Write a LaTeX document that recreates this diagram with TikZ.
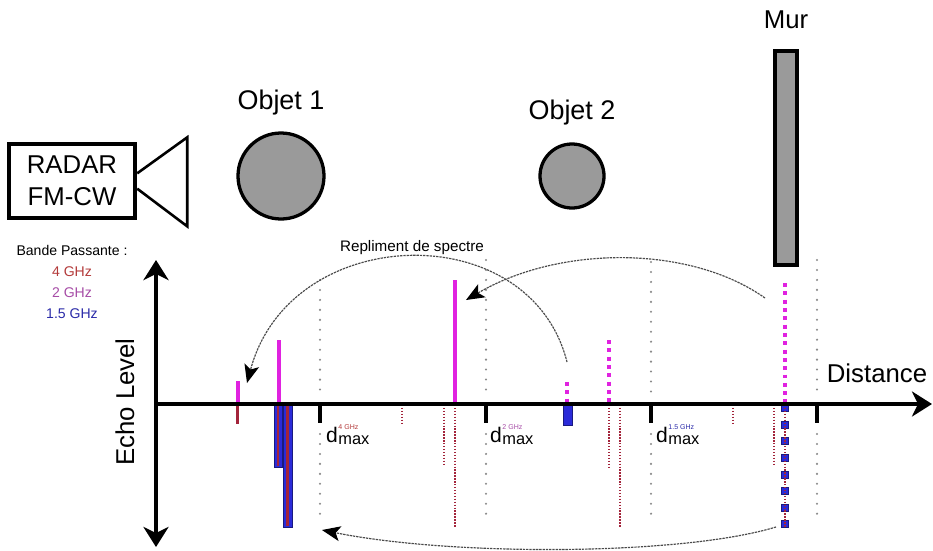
\documentclass[tikz,border=0pt]{standalone}
\usepackage{fontspec}
\setmainfont{Liberation Sans}
\usetikzlibrary{arrows.meta, positioning, calc}
\definecolor{rougeecho}{HTML}{A3243B}
\definecolor{rougetexte}{HTML}{B33A3A}
\definecolor{violettexte}{HTML}{A64CA6}
\definecolor{magentaecho}{HTML}{E022E0}
\definecolor{bleutexte}{HTML}{2A2AA8}
\definecolor{bleuecho}{HTML}{2B2BD9}
\definecolor{bleufonce}{HTML}{1A1A80}
\definecolor{grisobjet}{HTML}{9A9A9A}
\definecolor{grispoint}{HTML}{8A8A8A}
\definecolor{grisfleche}{HTML}{4A4A4A}
\tikzset{
  titre/.style={font=\fontsize{23}{27}\selectfont, inner sep=0pt},
  cadre/.style={rectangle, draw=black, line width=3.2pt, fill=white, align=center,
    font=\fontsize{22}{27}\selectfont, minimum width=38mm, minimum height=22mm, inner sep=0pt},
  cornet/.style={line width=2.2pt, line join=miter},
  objet/.style={circle, draw=black, line width=2.8pt, fill=grisobjet, inner sep=0pt},
  mur/.style={rectangle, draw=black, line width=3pt, fill=grisobjet, inner sep=0pt,
    minimum width=6.6mm, minimum height=64.2mm},
  legende/.style={font=\fontsize{12}{14}\selectfont, inner sep=0pt, text height=9pt, text depth=0pt},
  pointe/.tip={Stealth[length=6mm, width=7.5mm, inset=1.8mm]},
  axe/.style={line width=3pt, -pointe},
  graduation/.style={line width=3.2pt},
  pointille/.style={draw=grispoint, line width=2pt, line cap=round, dash pattern=on 0pt off 8.5pt},
  tiretrouge/.style={draw=rougeecho, line width=2.1pt, dash pattern=on 1.2pt off 1.3pt},
  carremagenta/.style={draw=magentaecho, line width=3.4pt, dash pattern=on 3.4pt off 3.7pt},
  barremagenta/.style={fill=magentaecho},
  barrebleue/.style={fill=bleuecho, draw=bleufonce, line width=0.6pt},
  traitrouge/.style={draw=rougeecho, line width=1.8pt},
  lettred/.style={anchor=base west, inner sep=0pt, font=\fontsize{18}{18}\selectfont},
  indicemax/.style={anchor=base west, inner sep=0pt, font=\fontsize{14}{14}\selectfont, yshift=-2.5pt},
  exposant/.style={anchor=base west, inner sep=0pt, font=\fontsize{6}{6}\selectfont, yshift=11pt},
  repli/.style={draw=grisfleche, line width=1pt, dash pattern=on 2pt off 0.8pt,
    -{Stealth[length=5.5mm, width=4.5mm, inset=1.3mm, color=black]}}
}

\begin{document}
\begin{tikzpicture}[x=0.03cm, y=-0.03cm]
  \useasboundingbox (0,0) rectangle (933,550);

  % scene
  \node[cadre] (radar) at (72,181) {RADAR\\FM-CW};
  \draw[cornet] ([yshift=2.3mm]radar.east) -- ++(50,-36) -- ++(0,89) -- ([yshift=-2.3mm]radar.east);
  \node[objet, minimum size=25.8mm] (objet1) at (281,176) {};
  \node[titre, above=4.8mm of objet1] (nomobjet1) {Objet 1};
  \node[objet, minimum size=19.2mm] (objet2) at (572,176) {};
  \node[titre, above=5.1mm of objet2] (nomobjet2) {Objet 2};
  \node[mur] (mur) at (786,158) {};
  \node[titre, font=\fontsize{22}{26}\selectfont, above=6mm of mur] (nommur) {Mur};

  % legende
  \node[legende] (bande) at (72,250) {Bande Passante :};
  \node[legende, text=rougetexte, below=3mm of bande] (bande4) {4 GHz};
  \node[legende, text=violettexte, below=3mm of bande4] (bande2) {2 GHz};
  \node[legende, text=bleutexte, below=3mm of bande2] (bande15) {1.5 GHz};

  % distances maximales
  \foreach \x/\debut in {320/280, 486/260, 651/262, 817/260} {
    \draw[pointille] (\x,\debut) -- (\x,395);
    \draw[pointille] (\x,434) -- (\x,518);
  }

  % echos
  \draw[traitrouge] (237.5,404) -- (237.5,424);
  \fill[barremagenta] (235.5,381) rectangle (239.5,404);
  \fill[barremagenta] (276.5,340) rectangle (280.5,404);
  \fill[barremagenta] (452.5,280) rectangle (456.5,404);
  \filldraw[barrebleue] (274,404) rectangle (282,467);
  \filldraw[barrebleue] (283,404) rectangle (292,527);
  \filldraw[barrebleue] (563,404) rectangle (572,425);
  \draw[traitrouge] (278,404) -- (278,466);
  \draw[traitrouge] (287.5,404) -- (287.5,526);
  \foreach \i in {0,...,7}
    \filldraw[barrebleue] (781.5,{404.5+16.6*\i}) rectangle ++(7,7);
  \foreach \x/\fin in {402/425, 444/465, 455/527, 609/467, 620/527, 733/424, 774/465, 785/527}
    \draw[tiretrouge] (\x,405) -- (\x,\fin);
  \foreach \x/\debut in {567/382, 609/340, 785/283}
    \draw[carremagenta] (\x,\debut) -- (\x,403);

  % axes
  \coordinate (origine) at (156,404);
  \coordinate (finx) at (932,404);
  \coordinate (haut) at (156,260);
  \coordinate (bas) at (156,547);
  \draw[axe] (origine) -- (finx);
  \draw[axe, pointe-pointe] (bas) -- (haut);
  \foreach \x in {320, 486, 651, 817}
    \draw[graduation] (\x,404) -- (\x,423);
  \node[titre, font=\fontsize{22}{26}\selectfont] (distance) at (877,373) {Distance};
  \node[titre, font=\fontsize{22}{26}\selectfont, rotate=90] (niveau) at (125,402) {Echo Level};

  \foreach \x/\nom/\couleur/\bande in {326/a/rougetexte/4 GHz, 490/b/violettexte/2 GHz, 656/c/bleutexte/1.5 GHz} {
    \node[lettred] (d\nom) at (\x,442) {d};
    \node[indicemax] (max\nom) at (d\nom.base east) {max};
    \node[exposant, text=\couleur] (exp\nom) at (d\nom.base east) {\bande};
  }

  % repliement
  \coordinate (echoobjet2) at (567,362);
  \coordinate (repliobjet2) at (247,383);
  \coordinate (echomur) at (765,298);
  \coordinate (replimur) at (466,300);
  \coordinate (echomurbas) at (776,527);
  \coordinate (replimurbas) at (322,530);
  \draw[repli] (echoobjet2) .. controls (530,215) and (290,222) .. (repliobjet2);
  \draw[repli] (echomur) .. controls (690,245) and (560,245) .. (replimur);
  \draw[repli] (echomurbas) .. controls (680,556) and (450,556) .. (replimurbas);
  \node[font=\fontsize{13}{15}\selectfont, inner sep=0pt] (repliment) at (412,248) {Repliment de spectre};
\end{tikzpicture}
\end{document}
